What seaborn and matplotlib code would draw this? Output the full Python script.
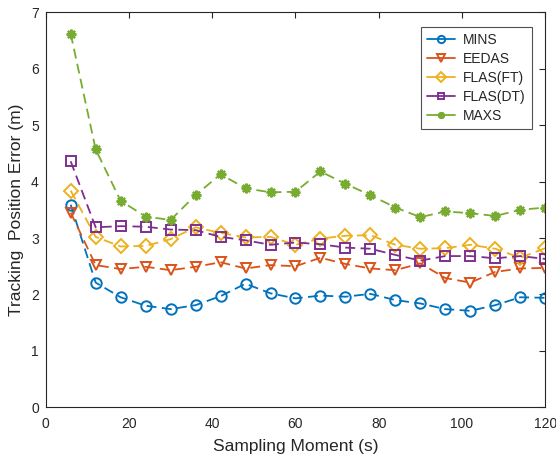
import numpy as np
import pandas as pd
import seaborn as sns
import matplotlib
matplotlib.use("Agg")
import matplotlib.pyplot as plt

# Sampling moments (s)
moments = [6, 12, 18, 24, 30, 36, 42, 48, 54, 60, 66, 72, 78, 84, 90, 96, 102, 108, 114, 120]

# Tracking position error (m) per method
mins = [3.59, 2.21, 1.95, 1.80, 1.74, 1.81, 1.97, 2.19, 2.02, 1.93, 1.98, 1.96, 2.01, 1.90, 1.84, 1.74, 1.71, 1.81, 1.95, 1.94]
eedas = [3.45, 2.52, 2.45, 2.49, 2.43, 2.49, 2.57, 2.46, 2.52, 2.50, 2.65, 2.54, 2.46, 2.43, 2.55, 2.29, 2.21, 2.40, 2.46, 2.47]
flas_ft = [3.84, 3.02, 2.85, 2.86, 2.98, 3.19, 3.09, 3.01, 3.02, 2.88, 2.99, 3.04, 3.05, 2.88, 2.81, 2.82, 2.88, 2.81, 2.65, 2.82]
flas_dt = [4.36, 3.19, 3.21, 3.20, 3.15, 3.14, 3.02, 2.96, 2.88, 2.92, 2.89, 2.83, 2.81, 2.70, 2.60, 2.68, 2.68, 2.64, 2.68, 2.63]
maxs = [6.62, 4.57, 3.66, 3.38, 3.32, 3.76, 4.13, 3.88, 3.81, 3.82, 4.18, 3.96, 3.76, 3.54, 3.37, 3.47, 3.44, 3.39, 3.50, 3.54]

labels = ["MINS", "EEDAS", "FLAS(FT)", "FLAS(DT)", "MAXS"]
series = [mins, eedas, flas_ft, flas_dt, maxs]
colors = ["#0072BD", "#D95319", "#EDB120", "#7E2F8E", "#77AC30"]
markers = ["o", "v", "D", "s", (8, 2, 0)]
msizes = [7.5, 7.5, 7.0, 6.5, 7.0]

sns.set_style("white")
plt.rcParams["font.family"] = ["Liberation Sans", "DejaVu Sans"]

fig = plt.figure(figsize=(5.56, 4.61), dpi=100)
ax = fig.add_axes([0.0822, 0.1165, 0.8985, 0.8568])

for lab, vals, col, mk, ms in zip(labels, series, colors, markers, msizes):
    df = pd.DataFrame({"t": moments, "err": vals})
    sns.lineplot(data=df, x="t", y="err", ax=ax, color=col, label=lab,
                 linestyle=(0, (5.5, 3)), linewidth=1.3,
                 marker=mk, markersize=ms, markerfacecolor="none",
                 markeredgecolor=col, markeredgewidth=1.4 if mk != (8, 2, 0) else 1.6)

ax.set_xlim(0, 120)
ax.set_ylim(0, 7)
ax.set_xticks(np.arange(0, 121, 20))
ax.set_yticks(np.arange(0, 8, 1))
ax.set_xlabel("Sampling Moment (s)", fontsize=12.5, color="#262626", labelpad=6)
ax.set_ylabel("Tracking  Position Error (m)", fontsize=12.5, color="#262626", labelpad=5)

for sp in ax.spines.values():
    sp.set_visible(True)
    sp.set_color("#262626")
    sp.set_linewidth(0.8)
ax.tick_params(direction="in", length=4, width=0.8, colors="#262626",
               labelsize=10, top=True, right=True, labelcolor="#262626")
ax.tick_params(axis="x", pad=7)
ax.tick_params(axis="y", pad=5)

leg = ax.legend(loc="upper right", bbox_to_anchor=(0.973, 0.963), fontsize=10,
                frameon=True, fancybox=False, edgecolor="#262626",
                handlelength=2.0, handletextpad=0.6, labelspacing=0.35,
                borderpad=0.45, borderaxespad=0.0, markerscale=0.7)
leg.get_frame().set_linewidth(0.8)
for h in leg.get_lines():
    h.set_linestyle("-")

fig.savefig("out.png", dpi=100)
